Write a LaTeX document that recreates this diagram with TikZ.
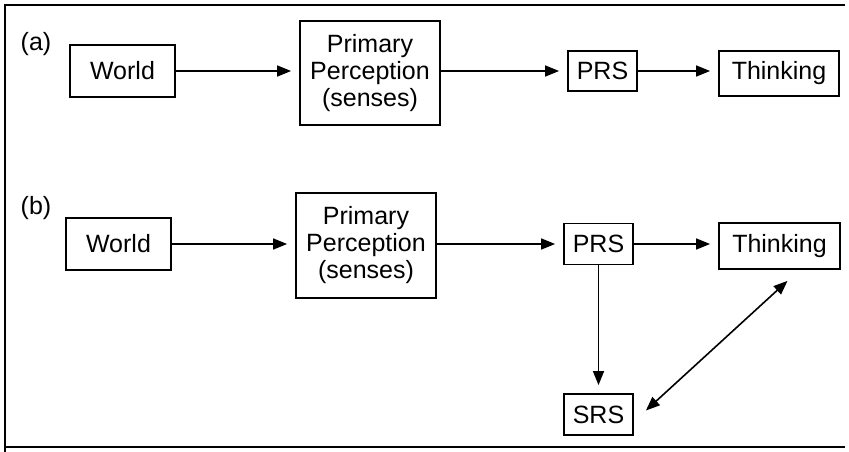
\documentclass[tikz,border=0pt]{standalone}
\usepackage{fontspec}
\setmainfont{Liberation Sans}
\usetikzlibrary{arrows.meta}
\begin{document}
\begin{tikzpicture}[x=1pt,y=-1pt,
  box/.style={draw,line width=1.8pt,inner sep=0pt,align=center,
    font=\fontsize{25}{27}\selectfont},
  lbl/.style={inner sep=0pt,font=\fontsize{25}{27}\selectfont},
  conn/.style={line width=1.6pt,-{Triangle[length=14pt,width=11pt]},shorten >=8pt},
  dconn/.style={line width=1.6pt,{Triangle[length=14pt,width=11pt]}-{Triangle[length=14pt,width=11pt]}},
  frame/.style={line width=2pt}]
\useasboundingbox (0,0) rectangle (849,452);
% frame
\coordinate (ftr) at (845,5);
\coordinate (ftl) at (5,5);
\coordinate (fbl) at (5,452);
\coordinate (fbls) at (5,447);
\coordinate (fbr) at (845,447);
\draw[frame] (ftr) -- (ftl) -- (fbl);
\draw[frame] (fbls) -- (fbr);
% (a)
\node[lbl] (la) at (36,44) {(a)};
\node[box,minimum width=105pt,minimum height=52pt] (aw) at (122.5,71) {World};
\node[box,minimum width=140pt,minimum height=104pt] (ap) at (370,73) {Primary\\Perception\\(senses)};
\node[box,minimum width=69pt,minimum height=40pt] (aprs) at (602.5,71) {PRS};
\node[box,minimum width=120pt,minimum height=45pt] (at) at (779,73.5) {Thinking};
\draw[conn] (aw.east) -- (ap.west |- aw.east);
\draw[conn] (ap.east |- aprs.west) -- (aprs.west);
\draw[conn] (aprs.east) -- (at.west |- aprs.east);
% (b)
\node[lbl] (lb) at (36,208) {(b)};
\node[box,minimum width=105pt,minimum height=52pt] (bw) at (118.5,244) {World};
\node[box,minimum width=140pt,minimum height=105pt] (bp) at (366,245.5) {Primary\\Perception\\(senses)};
\node[box,minimum width=69pt,minimum height=41pt] (bprs) at (598.5,244) {PRS};
\node[box,minimum width=121pt,minimum height=46pt] (bt) at (779.5,246) {Thinking};
\node[box,minimum width=69pt,minimum height=41pt] (bsrs) at (598.5,414.5) {SRS};
\draw[conn] (bw.east) -- (bp.west |- bw.east);
\draw[conn] (bp.east |- bprs.west) -- (bprs.west);
\draw[conn] (bprs.east) -- (bt.west |- bprs.east);
\draw[conn] (bprs.south) -- (bsrs.north);
\coordinate (dtop) at ([xshift=8pt,yshift=-11pt]bt.south);
\coordinate (dbot) at ([xshift=12pt,yshift=4pt]bsrs.east);
\draw[dconn] (dtop) -- (dbot);
\end{tikzpicture}
\end{document}
